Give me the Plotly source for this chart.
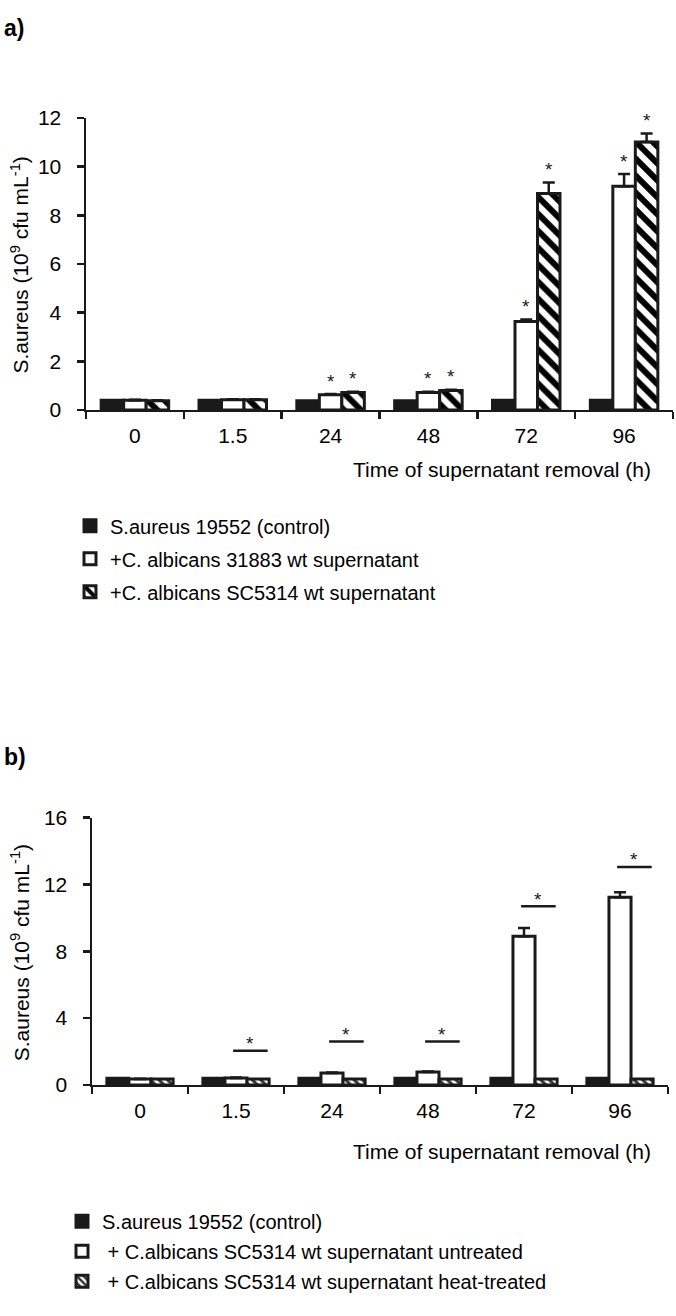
import plotly.graph_objects as go

# ---------------- data ----------------
categories = ["0", "1.5", "24", "48", "72", "96"]

# panel a
a_control = [0.40, 0.40, 0.38, 0.38, 0.40, 0.40]
a_31883 = [0.40, 0.42, 0.62, 0.72, 3.64, 9.20]
a_31883_err = [0.02, 0.02, 0.03, 0.03, 0.08, 0.50]
a_sc5314 = [0.38, 0.42, 0.72, 0.80, 8.90, 11.02]
a_sc5314_err = [0.02, 0.02, 0.03, 0.03, 0.45, 0.35]
a_sig_31883 = [False, False, True, True, True, True]
a_sig_sc5314 = [False, False, True, True, True, True]

# panel b
b_control = [0.40, 0.40, 0.40, 0.40, 0.40, 0.40]
b_untreated = [0.35, 0.42, 0.72, 0.78, 8.90, 11.24]
b_untreated_err = [0.02, 0.02, 0.03, 0.03, 0.50, 0.30]
b_heat = [0.35, 0.35, 0.35, 0.35, 0.35, 0.35]
b_sig_levels = [None, 2.05, 2.6, 2.6, 10.7, 13.05]

names_a = ["S.aureus 19552 (control)",
           "+C. albicans 31883 wt supernatant",
           "+C. albicans SC5314 wt supernatant"]
names_b = ["S.aureus 19552 (control)",
           " + C.albicans SC5314 wt supernatant untreated",
           " + C.albicans SC5314 wt supernatant heat-treated"]

y_title = "S.aureus (10<sup>9</sup> cfu mL<sup>-1</sup>)"
x_title = "Time of supernatant removal (h)"

# ---------------- style ----------------
W, H = 676, 1316
FONT = "Arial, 'Liberation Sans', sans-serif"
BLACK = "#1a1a1a"
LW = 3

def px_x(p):
    return p / W

def px_y(p):
    return 1 - p / H

fig = go.Figure()

err_style = dict(type="data", symmetric=False, color=BLACK, thickness=2.5, width=6)

# panel a bars
fig.add_trace(go.Bar(x=categories, y=a_control, name=names_a[0], legendgroup="a1",
                     marker=dict(color=BLACK, line=dict(color=BLACK, width=LW)),
                     xaxis="x", yaxis="y", legend="legend"))
fig.add_trace(go.Bar(x=categories, y=a_31883, name=names_a[1], legendgroup="a2",
                     marker=dict(color="white", line=dict(color=BLACK, width=LW)),
                     error_y=dict(array=a_31883_err, arrayminus=[0] * 6, **err_style),
                     xaxis="x", yaxis="y", legend="legend"))
fig.add_trace(go.Bar(x=categories, y=a_sc5314, name=names_a[2], legendgroup="a3",
                     marker=dict(color="white", line=dict(color=BLACK, width=LW),
                                 pattern=dict(shape="\\", fgcolor="black", bgcolor="white",
                                              fgopacity=1, size=12, solidity=0.5)),
                     error_y=dict(array=a_sc5314_err, arrayminus=[0] * 6, **err_style),
                     xaxis="x", yaxis="y", legend="legend"))

# panel b bars
fig.add_trace(go.Bar(x=categories, y=b_control, name=names_b[0], legendgroup="b1",
                     marker=dict(color=BLACK, line=dict(color=BLACK, width=LW)),
                     xaxis="x2", yaxis="y2", legend="legend2"))
fig.add_trace(go.Bar(x=categories, y=b_untreated, name=names_b[1], legendgroup="b2",
                     marker=dict(color="white", line=dict(color=BLACK, width=LW)),
                     error_y=dict(array=b_untreated_err, arrayminus=[0] * 6, **err_style),
                     xaxis="x2", yaxis="y2", legend="legend2"))
fig.add_trace(go.Bar(x=categories, y=b_heat, name=names_b[2], legendgroup="b3",
                     marker=dict(color="white", line=dict(color=BLACK, width=LW),
                                 pattern=dict(shape="\\", fgcolor="#333333", bgcolor="white",
                                              fgopacity=1, size=6, solidity=0.5)),
                     xaxis="x2", yaxis="y2", legend="legend2"))

BAR_STEP = 0.23  # centre distance between neighbouring bars in a group

annotations = []
shapes = []
star_font = dict(size=19, color=BLACK, family=FONT)

# significance stars panel a
for i in range(len(categories)):
    if a_sig_31883[i]:
        annotations.append(dict(x=i, y=a_31883[i] + a_31883_err[i], xref="x", yref="y",
                                text="*", showarrow=False, yanchor="middle", yshift=13,
                                font=star_font))
    if a_sig_sc5314[i]:
        annotations.append(dict(x=i + BAR_STEP, y=a_sc5314[i] + a_sc5314_err[i],
                                xref="x", yref="y", text="*", showarrow=False,
                                yanchor="middle", yshift=13, font=star_font))

# significance lines panel b
for i, lev in enumerate(b_sig_levels):
    if lev is None:
        continue
    shapes.append(dict(type="line", xref="x2", yref="y2", x0=i - 0.03, x1=i + 0.33,
                       y0=lev, y1=lev, line=dict(color=BLACK, width=2.5)))
    annotations.append(dict(x=i + 0.15, y=lev, xref="x2", yref="y2", text="*",
                            showarrow=False, yanchor="middle", yshift=7, font=star_font))

# panel labels
annotations.append(dict(x=px_x(2), y=px_y(16), xref="paper", yref="paper", text="<b>a)</b>",
                        showarrow=False, xanchor="left", yanchor="middle",
                        font=dict(size=23, color="black", family=FONT)))
annotations.append(dict(x=px_x(2), y=px_y(758), xref="paper", yref="paper", text="<b>b)</b>",
                        showarrow=False, xanchor="left", yanchor="middle",
                        font=dict(size=23, color="black", family=FONT)))

# axis titles
for yc in (258, 958):
    annotations.append(dict(x=px_x(20), y=px_y(yc), xref="paper", yref="paper", text=y_title,
                            textangle=-90, showarrow=False, xanchor="center", yanchor="middle",
                            font=dict(size=21, color="black", family=FONT)))
for yc in (466, 1160):
    annotations.append(dict(x=px_x(653), y=px_y(yc), xref="paper", yref="paper", text=x_title,
                            showarrow=False, xanchor="right", yanchor="middle",
                            font=dict(size=21, color="black", family=FONT)))

xaxis_common = dict(type="category", showline=True, linecolor=BLACK, linewidth=2.5,
                    ticks="outside", tickson="boundaries", ticklen=7, tickwidth=2.5,
                    tickcolor=BLACK, showgrid=False, range=[-0.5, 5.5],
                    tickfont=dict(size=21, color="black", family=FONT),
                    ticklabelstandoff=5, fixedrange=True)
yaxis_common = dict(showline=True, linecolor=BLACK, linewidth=2.5, ticks="outside",
                    ticklen=7, tickwidth=2.5, tickcolor=BLACK, showgrid=False,
                    zeroline=False, tickfont=dict(size=21, color="black", family=FONT),
                    ticklabelstandoff=11, fixedrange=True)

legend_common = dict(font=dict(size=20, color="black", family=FONT), bgcolor="rgba(0,0,0,0)",
                     xanchor="left", yanchor="top", itemwidth=30,
                     traceorder="grouped", itemclick=False, itemdoubleclick=False)

fig.update_layout(
    width=W, height=H,
    margin=dict(l=0, r=0, t=0, b=0),
    paper_bgcolor="white", plot_bgcolor="white",
    font=dict(family=FONT, color="black"),
    barmode="group", bargap=0.31, bargroupgap=0,
    showlegend=True,
    xaxis=dict(domain=[px_x(86), px_x(673)], anchor="y", **xaxis_common),
    yaxis=dict(domain=[px_y(405), px_y(108)], anchor="x", range=[0, 12], dtick=2,
               **yaxis_common),
    xaxis2=dict(domain=[px_x(92), px_x(668)], anchor="y2", **xaxis_common),
    yaxis2=dict(domain=[px_y(1092), px_y(820)], anchor="x2", range=[0, 16], dtick=4,
                **yaxis_common),
    legend=dict(x=px_x(70), y=px_y(503), tracegroupgap=4, **legend_common),
    legend2=dict(x=px_x(62), y=px_y(1211), tracegroupgap=1, **legend_common),
    annotations=annotations,
    shapes=shapes,
)

fig.write_html("out.html",
               config={"displayModeBar": False, "staticPlot": True},
               post_script="document.body.style.margin='0';document.body.style.padding='0';")
